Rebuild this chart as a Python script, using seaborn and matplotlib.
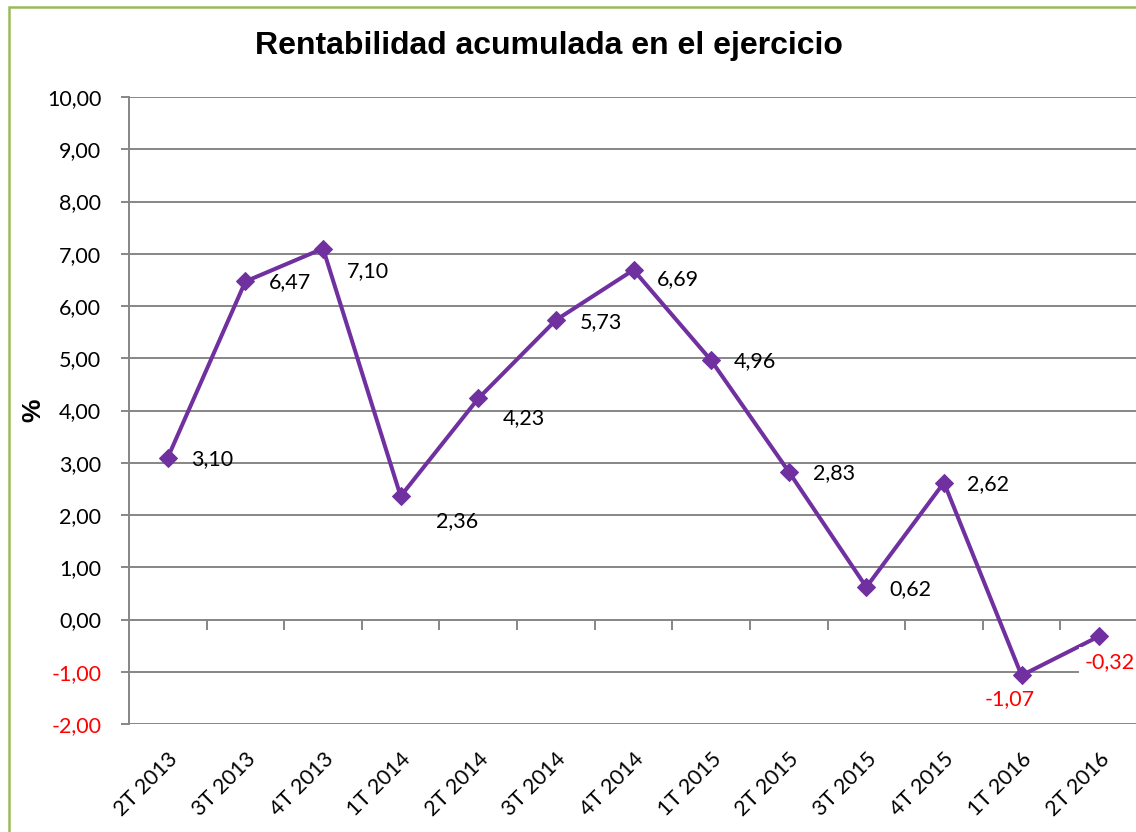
import matplotlib
matplotlib.use("Agg")
import matplotlib.pyplot as plt
from matplotlib.patches import Rectangle
import seaborn as sns
import pandas as pd

# ---- data ----
periods = ["2T 2013", "3T 2013", "4T 2013", "1T 2014", "2T 2014", "3T 2014", "4T 2014",
           "1T 2015", "2T 2015", "3T 2015", "4T 2015", "1T 2016", "2T 2016"]
rentabilidad = [3.10, 6.47, 7.10, 2.36, 4.23, 5.73, 6.69, 4.96, 2.83, 0.62, 2.62, -1.07, -0.32]
y_ticks = [-2, -1, 0, 1, 2, 3, 4, 5, 6, 7, 8, 9, 10]
title_text = "Rentabilidad acumulada en el ejercicio"
y_label = "%"

# label offsets in pixels (dx, dy downward) and alignment -- styling only
label_offsets = [(23, 2), (23, 1), (24, 23), (35, 25), (24, 20), (24, 2), (23, 9),
                 (23, 1), (24, 1), (23, 2), (23, 1), (-12, 24), (-15, 26)]
label_ha = ["left"] * 11 + ["center", "left"]

df = pd.DataFrame({"periodo": periods, "valor": rentabilidad})

sns.set_theme(style="white")
plt.rcParams["font.family"] = ["Lato", "DejaVu Sans"]
plt.rcParams["text.color"] = "black"
plt.rcParams["xtick.color"] = "black"
plt.rcParams["ytick.color"] = "black"

W, H = 1136, 832
fig = plt.figure(figsize=(W / 100, H / 100), dpi=100)
ax = fig.add_axes([129 / W, 108 / H, (1138 - 129) / W, 627 / H])

purple = "#7030A0"
grid_c = "#868686"
fs = 15.5

sns.lineplot(data=df, x="periodo", y="valor", sort=False, ax=ax, color=purple,
             linewidth=2.9, marker="D", markersize=9.5, markeredgecolor=purple,
             markerfacecolor=purple, zorder=5)

ax.set_xlim(-0.5, len(periods) - 0.5)
ax.set_ylim(-2, 10)
ax.set_yticks(y_ticks)
ax.set_yticklabels([f"{v:.2f}".replace(".", ",") for v in y_ticks], fontsize=fs)
for lab, v in zip(ax.get_yticklabels(), y_ticks):
    lab.set_color("red" if v < 0 else "black")
ax.yaxis.grid(True, color=grid_c, linewidth=1.4)
ax.set_axisbelow(True)
ax.tick_params(axis="y", length=6, width=1.4, color=grid_c, pad=14, left=True)

for s in ["top", "right", "bottom"]:
    ax.spines[s].set_visible(False)
ax.spines["left"].set_color(grid_c)
ax.spines["left"].set_linewidth(1.4)

# bottom category labels (no tick marks)
ax.set_xticks(range(len(periods)))
ax.set_xticklabels(periods, rotation=45, ha="right", rotation_mode="anchor", fontsize=fs)
ax.tick_params(axis="x", length=0, pad=18, bottom=True)
ax.set_xlabel("")
ax.set_ylabel("")

# tick marks on the zero line at category boundaries
sec = ax.secondary_xaxis(2 / 12)
sec.set_xticks([i + 0.5 for i in range(len(periods) - 1)])
sec.set_xticklabels([])
sec.tick_params(axis="x", direction="out", length=7, width=1.4, color=grid_c)
for s in ["top", "left", "right", "bottom"]:
    sec.spines[s].set_visible(False)

# data labels
for i, (v, (dx, dy), ha) in enumerate(zip(rentabilidad, label_offsets, label_ha)):
    txt = f"{v:.2f}".replace(".", ",")
    kw = {}
    if i == len(rentabilidad) - 1:
        kw["bbox"] = dict(facecolor="white", edgecolor="none", pad=4)
    ax.annotate(txt, (i, v), xytext=(dx, -dy), textcoords="offset pixels",
                ha=ha, va="center", fontsize=fs,
                color="red" if v < 0 else "black", zorder=6, **kw)

fig.text(549 / W, 1 - 46 / H, title_text, ha="center", va="center", color="black",
         fontsize=23, fontweight="bold", family=["Liberation Sans", "DejaVu Sans"])
fig.text(33 / W, 1 - 410 / H, y_label, ha="center", va="center", rotation=90,
         color="black", fontsize=19, fontweight="bold",
         family=["Liberation Sans", "DejaVu Sans"])

# green chart border
fig.patches.append(Rectangle((8.5 / W, -0.05), 1.2, 1 - 7 / H + 0.05,
                             transform=fig.transFigure, fill=False,
                             edgecolor="#9BBB59", linewidth=1.8))

fig.savefig("out.png", dpi=100)
